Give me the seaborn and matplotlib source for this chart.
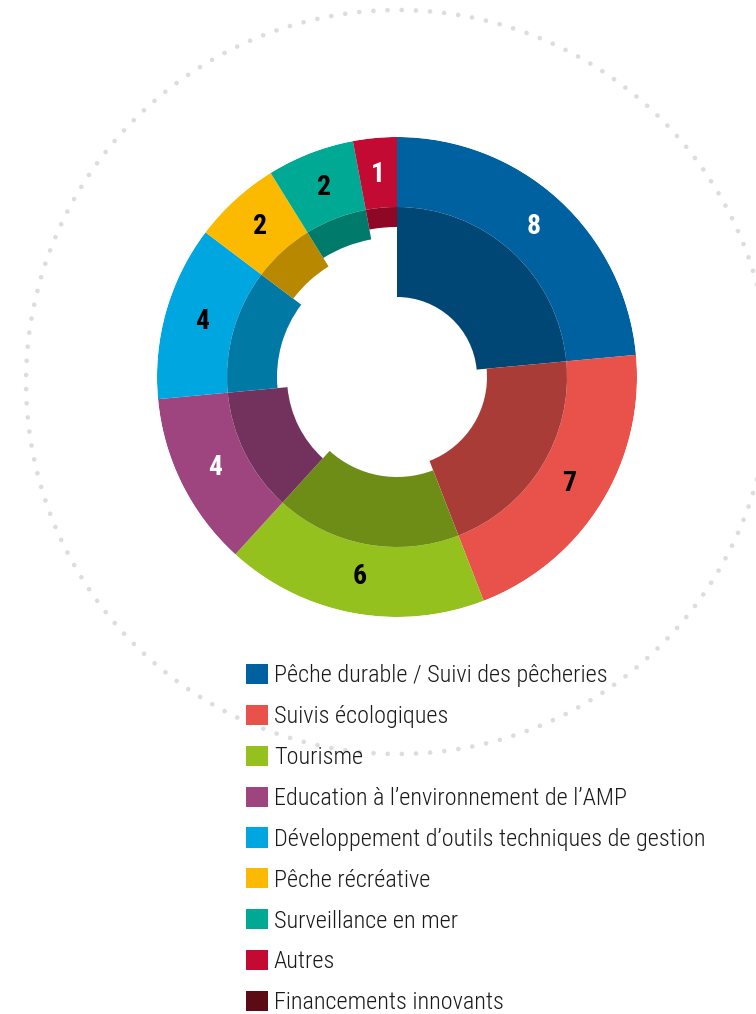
import numpy as np
import matplotlib
matplotlib.use("Agg")
import matplotlib.pyplot as plt
import seaborn as sns
from matplotlib.patches import Patch

# Data
categories = [
    "Pêche durable / Suivi des pêcheries",
    "Suivis écologiques",
    "Tourisme",
    "Education à l’environnement de l’AMP",
    "Développement d’outils techniques de gestion",
    "Pêche récréative",
    "Surveillance en mer",
    "Autres",
    "Financements innovants",
]
values = [8, 7, 6, 4, 4, 2, 2, 1, 0]
colors = ["#0061A0", "#E8524A", "#95C11F", "#9E4580", "#00A6E0",
          "#FBBA00", "#00A993", "#C20A32", "#5C0A14"]
label_colors = ["white", "black", "black", "white", "black",
                "black", "black", "white", "white"]

sns.set_style("white")
plt.rcParams["font.family"] = ["Roboto Condensed", "Barlow Condensed", "DejaVu Sans"]

W, H = 756, 1014
fig = plt.figure(figsize=(W / 100, H / 100), dpi=100)

# background axes in pixel coords for the dotted circle
bg = fig.add_axes([0, 0, 1, 1])
bg.set_xlim(0, W)
bg.set_ylim(H, 0)
bg.set_axis_off()
t = np.linspace(0, 2 * np.pi, 400)
bg.plot(398 + 372 * np.cos(t), 382 + 372 * np.sin(t), color="#dddddd",
        lw=3.4, linestyle=(0, (0.001, 3.0)), dash_capstyle="round")

# donut in a polar axes, radius in pixels
cx, cy, R = 397, 377, 240
ax = fig.add_axes([(cx - R) / W, (H - cy - R) / H, 2 * R / W, 2 * R / H],
                  projection="polar")
ax.set_theta_zero_location("N")
ax.set_theta_direction(-1)
ax.set_ylim(0, R)
ax.set_axis_off()

total = sum(values)
vals = np.array(values, dtype=float)
widths = vals / total * 2 * np.pi
starts = np.concatenate([[0], np.cumsum(widths)[:-1]])
r_mid = 170

for i, (s, w, v) in enumerate(zip(starts, widths, values)):
    if v == 0:
        continue
    ax.bar(s, R - r_mid, width=w, bottom=r_mid, align="edge",
           color=colors[i], linewidth=0)
    r_in = 80 + 10 * i
    dark = tuple(c * 0.73 for c in matplotlib.colors.to_rgb(colors[i]))
    ax.bar(s, r_mid - r_in, width=w, bottom=r_in, align="edge",
           color=dark, linewidth=0)
    ax.text(s + w / 2, 203, str(v), ha="center", va="center",
            fontsize=20, fontweight="bold", color=label_colors[i])

handles = [Patch(facecolor=c, edgecolor="none") for c in colors]
fig.legend(handles, categories, loc="upper left",
           bbox_to_anchor=(246 / W, 1 - 664 / H), frameon=False,
           prop={"size": 17.5, "weight": "light"},
           handlelength=0.9, handleheight=0.9,
           handletextpad=0.25, labelspacing=0.715, borderpad=0,
           borderaxespad=0, labelcolor="#1a1a1a")

fig.savefig("out.png", dpi=100)
